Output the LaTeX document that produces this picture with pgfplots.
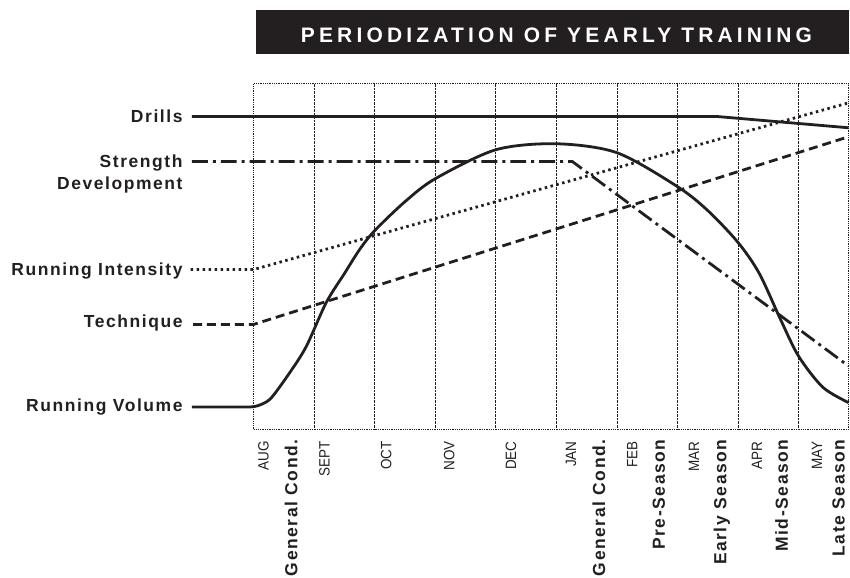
\documentclass[border=0pt]{standalone}
\usepackage{pgfplots}
\pgfplotsset{compat=1.18}
\usepackage{fontspec}
\setmainfont{Liberation Sans}
\newfontfamily\lblfont[LetterSpace=9]{Liberation Sans}
\newfontfamily\titlefont[LetterSpace=20]{Liberation Sans}
\newfontfamily\monfont[FakeStretch=0.9]{Liberation Sans}
\definecolor{ink}{RGB}{35,31,32}
\newcommand\LBL{\lblfont\bfseries\fontsize{17.5bp}{20bp}\selectfont}
\newcommand\MON{\monfont\fontsize{15bp}{17bp}\selectfont}
\newcommand\TTL{\titlefont\bfseries\fontsize{21bp}{24bp}\selectfont}
\begin{document}
\begin{tikzpicture}
\begin{axis}[
  x=60.67bp, y=1bp, scale only axis,
  xmin=0, xmax=9.824, ymin=0, ymax=346,
  clip=false,
  axis line style={densely dotted, line width=0.8bp, ink},
  xtick={1,2,3,4,5,6,7,8,9}, xticklabels={}, ytick=\empty,
  major tick length=0pt,
  xmajorgrids, grid style={densely dotted, line width=0.8bp, ink},
]
% invisible frame fixing the picture size
\path (axis cs:-4.187,-148) rectangle (axis cs:9.824,430);
% title
\fill[ink] (axis cs:0.033,376) rectangle (axis cs:9.824,420);
\node[white, font=\TTL, inner sep=0] at (axis cs:5.0,394.5) {PERIODIZATION OF YEARLY TRAINING};

% Drills
\addplot[ink, line width=2.8bp] coordinates {(-1.02,313.3) (0,313.3) (7.65,313.3) (9.824,302)};
% Strength Development
\addplot[ink, line width=2.8bp, dash pattern=on 16bp off 5bp on 3bp off 5bp] coordinates {(-1.02,268.3) (0,268.3) (5.26,268.3) (9.824,63.3)};
% Running Intensity
\addplot[ink, line width=2.8bp, dash pattern=on 2.5bp off 3.5bp] coordinates {(-1.04,160) (0,160) (9.824,327)};
% Technique
\addplot[ink, line width=2.8bp, dash pattern=on 9bp off 5bp] coordinates {(-1.0,105) (0,105) (9.824,293)};
% Running Volume
\addplot[ink, line width=2.8bp, smooth, tension=0.5] coordinates {
 (-1.02,22.3) (-0.5,22.3) (-0.15,22.3) (0,22.6) (0.15,25.5) (0.3,32) (0.6,57) (0.87,83) (1.2,127) (1.5,156) (1.75,180) (2.0,199) (2.5,228) (3.0,251) (4.0,280)
 (5.0,286) (6.0,277) (7.0,243) (7.5,219) (8.0,187) (8.35,156) (8.7,110) (9.0,73)
 (9.4,42) (9.824,26.7)};

% left labels
\node[anchor=base east, inner sep=0, font=\LBL, ink] at (axis cs:-1.17,307.7) {Drills};
\node[anchor=base east, inner sep=0, font=\LBL, ink] at (axis cs:-1.17,262.7) {Strength};
\node[anchor=base east, inner sep=0, font=\LBL, ink] at (axis cs:-1.17,240.4) {Development};
\node[anchor=base east, inner sep=0, font=\LBL, ink] at (axis cs:-1.17,153.7) {Running Intensity};
\node[anchor=base east, inner sep=0, font=\LBL, ink] at (axis cs:-1.17,101.7) {Technique};
\node[anchor=base east, inner sep=0, font=\LBL, ink] at (axis cs:-1.17,17.7) {Running Volume};

% month labels
\node[rotate=90, anchor=east, inner sep=0, font=\MON, ink] at (axis cs:0.165,-12) {AUG};
\node[rotate=90, anchor=east, inner sep=0, font=\MON, ink] at (axis cs:1.17,-12) {SEPT};
\node[rotate=90, anchor=east, inner sep=0, font=\MON, ink] at (axis cs:2.19,-12) {OCT};
\node[rotate=90, anchor=east, inner sep=0, font=\MON, ink] at (axis cs:3.23,-12) {NOV};
\node[rotate=90, anchor=east, inner sep=0, font=\MON, ink] at (axis cs:4.25,-12) {DEC};
\node[rotate=90, anchor=east, inner sep=0, font=\MON, ink] at (axis cs:5.24,-12) {JAN};
\node[rotate=90, anchor=east, inner sep=0, font=\MON, ink] at (axis cs:6.25,-12) {FEB};
\node[rotate=90, anchor=east, inner sep=0, font=\MON, ink] at (axis cs:7.27,-12) {MAR};
\node[rotate=90, anchor=east, inner sep=0, font=\MON, ink] at (axis cs:8.31,-12) {APR};
\node[rotate=90, anchor=east, inner sep=0, font=\MON, ink] at (axis cs:9.30,-12) {MAY};

% phase labels
\node[rotate=90, anchor=east, inner sep=0, font=\LBL, ink] at (axis cs:0.62,-10) {General Cond.};
\node[rotate=90, anchor=east, inner sep=0, font=\LBL, ink] at (axis cs:5.70,-10) {General Cond.};
\node[rotate=90, anchor=east, inner sep=0, font=\LBL, ink] at (axis cs:6.69,-10) {Pre-Season};
\node[rotate=90, anchor=east, inner sep=0, font=\LBL, ink] at (axis cs:7.73,-10) {Early Season};
\node[rotate=90, anchor=east, inner sep=0, font=\LBL, ink] at (axis cs:8.72,-10) {Mid-Season};
\node[rotate=90, anchor=east, inner sep=0, font=\LBL, ink] at (axis cs:9.66,-10) {Late Season};
\end{axis}
\end{tikzpicture}
\end{document}
